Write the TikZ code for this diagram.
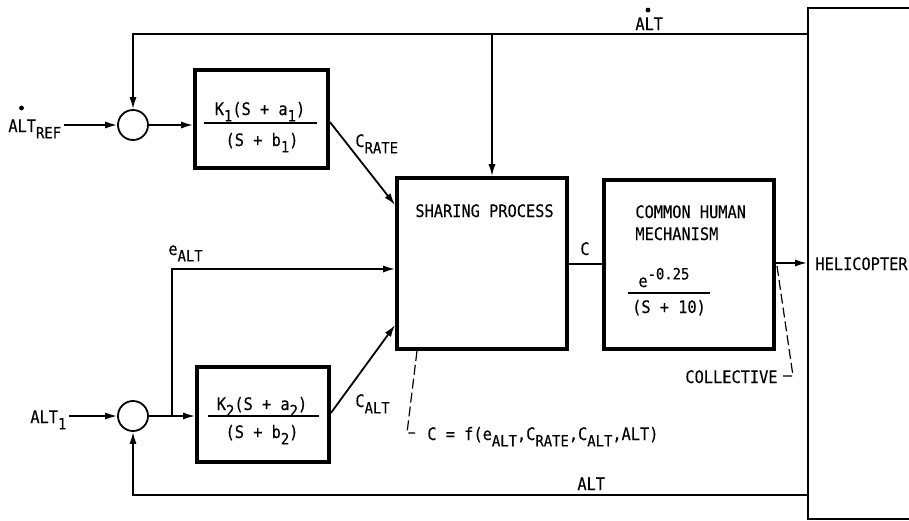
\documentclass[tikz,border=0pt]{standalone}
\usepackage{fontspec}
\setmainfont{DejaVu Sans Mono}[FakeStretch=0.89, FakeBold=0.3]
\usetikzlibrary{arrows.meta, positioning}

% small raised / lowered text for the labels
\newcommand{\lowtxt}[1]{\raisebox{-3.2pt}{\fontsize{7.8}{8}\selectfont #1}}
\newcommand{\hightxt}[1]{\raisebox{3.8pt}{\fontsize{7.8}{8}\selectfont #1}}

\tikzset{
    block/.style={draw, line width=1.9pt, inner sep=0pt},
    sumnode/.style={draw, circle, line width=0.9pt, minimum size=15pt, inner sep=0pt},
    signal/.style={line width=0.9pt},
    fracline/.style={line width=1.4pt},
    noteline/.style={line width=0.6pt, dash pattern=on 5pt off 2pt},
    label/.style={anchor=base west},
    ratedot/.style={circle, fill, inner sep=0pt, minimum size=2.4pt}
}

\begin{document}
\begin{tikzpicture}[x=0.5pt, y=-0.5pt, >={Latex[length=6pt,width=3.6pt]},
    every node/.style={font=\fontsize{8.6}{11}\selectfont, inner sep=1pt}]

    % Picture frame
    \clip (0,0) rectangle (909,520);

    % Summing junctions
    \node[sumnode] (sum1) at (133,125) {};
    \node[sumnode] (sum2) at (133,416) {};

    % Blocks
    \node[block, minimum width=66.5pt, minimum height=49pt] (k1blk) at (261.5,119) {};
    \node[block, minimum width=66pt, minimum height=47.5pt] (k2blk) at (263,414.5) {};
    \node[block, minimum width=85pt, minimum height=85.5pt] (share) at (482,263.5) {};
    \node[block, minimum width=85pt, minimum height=84.5pt] (human) at (689,264.5) {};
    \node[draw, line width=1pt, minimum width=62pt, minimum height=255.5pt,
          anchor=north west, inner sep=0pt] (heli) at (807,7) {};

    % Block texts
    \node[anchor=base] (k1num) at (260,115) {K\lowtxt{1}(S + a\lowtxt{1})};
    \node[anchor=base] (k1den) at (262,146) {(S + b\lowtxt{1})};
    \draw[fracline] (204,123) -- (317,123);
    \node[anchor=base] (k2num) at (262,410) {K\lowtxt{2}(S + a\lowtxt{2})};
    \node[anchor=base] (k2den) at (262,438) {(S + b\lowtxt{2})};
    \draw[fracline] (208,416) -- (319,416);
    \node[label] (sharetxt) at (413,217) {SHARING PROCESS};
    \node[label] (humantxt) at (633,218) {COMMON HUMAN};
    \node[label] (humantxtb) at (633,240) {MECHANISM};
    \node[label] (humannum) at (636,287) {e\hightxt{-0.25}};
    \draw[fracline] (628,293) -- (710,293);
    \node[anchor=base] (humanden) at (669,313) {(S + 10)};
    \node[label] (helitxt) at (813,270) {HELICOPTER};

    % Inputs
    \node[label] (altref) at (6,132) {ALT\lowtxt{REF}};
    \node[ratedot] (altrefdot) at (21.5,108) {};
    \node[label] (altone) at (28,423) {ALT\lowtxt{1}};
    \draw[signal,->] (altref.east |- sum1) -- (sum1.west);
    \draw[signal,->] (altone.east |- sum2) -- (sum2.west);

    % Rate loop
    \draw[signal,->] (sum1.east) -- (k1blk.west |- sum1.east);
    \draw[signal,->] (k1blk.east |- 0,122) -- (share.west |- 0,205);
    \node[label] (crate) at (353,147) {C\lowtxt{RATE}};

    % Altitude loop
    \coordinate (ejunc) at (172,416);
    \draw[signal,->] (sum2.east) -- (k2blk.west |- sum2.east);
    \draw[signal,->] (ejunc) |- (share.west |- 0,269);
    \node[label] (ealt) at (166,255) {e\lowtxt{ALT}};
    \draw[signal,->] (k2blk.east |- 0,413) -- (share.west |- 0,325);
    \node[label] (calt) at (353,407) {C\lowtxt{ALT}};

    % Forward path
    \draw[signal] (share.east |- 0,264) -- (human.west |- 0,264);
    \node[label] (cout) at (578,255) {C};
    \draw[signal,->] (human.east |- 0,263) -- (heli.west |- 0,263);

    % Feedback lines
    \coordinate (fbtop) at (492,34);
    \draw[signal,->] (heli.west |- fbtop) -| (sum1.north);
    \draw[signal,->] (fbtop) -- (share.north -| fbtop);
    \node[label] (altrate) at (633,30) {ALT};
    \node[ratedot] (altratedot) at (648,10) {};
    \draw[signal,->] (heli.west |- 0,495) -| (sum2.south);
    \node[label] (altfb) at (575,490) {ALT};

    % Notes
    \draw[noteline] (share.south -| 417,0) -- (407,433) -- (415,433);
    \node[label] (fnote) at (425,440)
        {C = f(e\lowtxt{ALT},C\lowtxt{RATE},C\lowtxt{ALT},ALT)};
    \draw[noteline] (777,266) -- (793,376) -- (783,376);
    \node[label] (colltxt) at (683,383) {COLLECTIVE};

\end{tikzpicture}
\end{document}
